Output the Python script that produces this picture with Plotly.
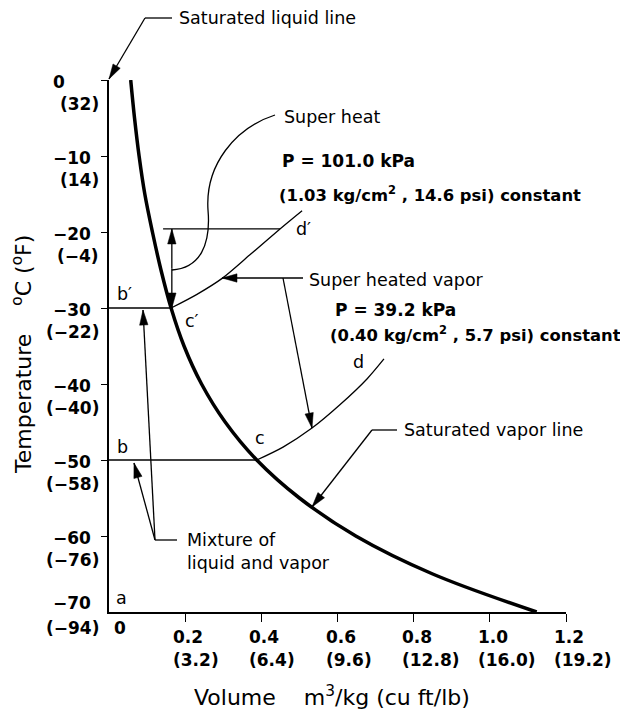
import math
import plotly.graph_objects as go

# ---------------- data ----------------
# saturated vapor line: temperature (degC) vs specific volume (m3/kg)
sat_T = [0, -5, -10, -15, -20, -25, -30, -35, -40, -45, -50, -55, -60, -65, -70]
sat_v = [0.057, 0.067, 0.079, 0.094, 0.114, 0.1365, 0.163, 0.197, 0.243, 0.305,
         0.388, 0.500, 0.648, 0.850, 1.123]

# superheat line at P = 101.0 kPa (c' -> d')
sh_hi_v = [0.163, 0.231, 0.297, 0.370, 0.449, 0.507]
sh_hi_T = [-30, -28.2, -26.1, -23.0, -19.6, -17.2]

# superheat line at P = 39.2 kPa (c -> d)
sh_lo_v = [0.388, 0.457, 0.533, 0.607, 0.678, 0.722]
sh_lo_T = [-50, -48.3, -45.8, -42.7, -39.3, -36.7]

# constant temperature lines
bc_v = [0.0, 0.388]
bc_T = [-50, -50]
bc2_v = [0.0, 0.163]
bc2_T = [-30, -30]
d2_v = [0.142, 0.449]
d2_T = [-19.6, -19.6]

# superheat interval (double arrow)
superheat_v = 0.165
superheat_T = [-19.6, -30]

# tick labels
y_ticks_C = [0, -10, -20, -30, -40, -50, -60, -70]
y_ticks_C_txt = ["0", "−10", "−20", "−30", "−40", "−50", "−60", "−70"]
y_ticks_F = ["(32)", "(14)", "(−4)", "(−22)", "(−40)", "(−58)", "(−76)", "(−94)"]
x_ticks = [0.2, 0.4, 0.6, 0.8, 1.0, 1.2]
x_ticks_txt = ["0.2", "0.4", "0.6", "0.8", "1.0", "1.2"]
x_ticks_ft = ["(3.2)", "(6.4)", "(9.6)", "(12.8)", "(16.0)", "(19.2)"]

# ---------------- layout geometry ----------------
W, H = 620, 715
ML, MR, MT, MB = 109, 54, 80, 103
PW, PH = W - ML - MR, H - MT - MB
XR, YR = [0, 1.2], [-70, 0]
FONT = "DejaVu Sans"
REG = 17.5
BOLD = 17


def paper(px, py):
    return (px - ML) / PW, (H - MB - py) / PH


def to_px(v, t):
    return (ML + (v - XR[0]) / (XR[1] - XR[0]) * PW,
            MT + (YR[1] - t) / (YR[1] - YR[0]) * PH)


shapes = []
annotations = []


def fmt(pts):
    return " L ".join("%.5f,%.5f" % paper(*p) for p in pts)


def polyline(pts, width=1.3):
    shapes.append(dict(type="path", xref="paper", yref="paper",
                       path="M " + fmt(pts),
                       line=dict(color="black", width=width)))


def arrowhead(tail, tip, L=15, hw=4.2):
    dx, dy = tip[0] - tail[0], tip[1] - tail[1]
    n = math.hypot(dx, dy)
    ux, uy = dx / n, dy / n
    bx, by = tip[0] - L * ux, tip[1] - L * uy
    nx, ny = -uy, ux
    pts = [tip, (bx + hw * nx, by + hw * ny), (bx - hw * nx, by - hw * ny)]
    shapes.append(dict(type="path", xref="paper", yref="paper",
                       path="M " + fmt(pts) + " Z", fillcolor="black",
                       line=dict(color="black", width=0.5)))


def arrow(tail, tip):
    polyline([tail, tip])
    arrowhead(tail, tip)


def txt(px, py, s, size=REG, anchor="left", bold=False, angle=0):
    x, y = paper(px, py)
    annotations.append(dict(x=x, y=y, xref="paper", yref="paper",
                            text="<b>%s</b>" % s if bold else s,
                            showarrow=False, xanchor=anchor, yanchor="middle",
                            textangle=angle,
                            font=dict(family=FONT, size=size, color="black")))


# ---------------- traces ----------------
fig = go.Figure()
fig.add_trace(go.Scatter(x=sat_v, y=sat_T, mode="lines",
                         line=dict(color="black", width=3.5, shape="spline", smoothing=1.0)))
fig.add_trace(go.Scatter(x=sh_hi_v, y=sh_hi_T, mode="lines",
                         line=dict(color="black", width=1.3, shape="spline", smoothing=0.8)))
fig.add_trace(go.Scatter(x=sh_lo_v, y=sh_lo_T, mode="lines",
                         line=dict(color="black", width=1.3, shape="spline", smoothing=0.8)))
for xs, ys in [(bc_v, bc_T), (bc2_v, bc2_T), (d2_v, d2_T)]:
    fig.add_trace(go.Scatter(x=xs, y=ys, mode="lines",
                             line=dict(color="black", width=1.3)))

# double arrow for super heat
top = to_px(superheat_v, superheat_T[0])
bot = to_px(superheat_v, superheat_T[1])
mid = (top[0], (top[1] + bot[1]) / 2)
arrow(mid, top)
arrow(mid, bot)

# ---------------- leaders ----------------
# saturated liquid line
polyline([(172, 18), (145, 18)])
arrow((145, 18), (109, 79))
txt(177, 18, "Saturated liquid line")

# super heat (curved leader)
p = [paper(*q) for q in [(275, 115), (235, 128), (205, 165), (208, 210),
                         (211, 245), (200, 268), (172, 270)]]
shapes.append(dict(type="path", xref="paper", yref="paper",
                   path="M %.5f,%.5f C %.5f,%.5f %.5f,%.5f %.5f,%.5f C %.5f,%.5f %.5f,%.5f %.5f,%.5f"
                        % tuple(c for pt in p for c in pt),
                   line=dict(color="black", width=1.3)))
txt(282, 117, "Super heat")

# super heated vapor
arrow((303, 278), (222, 278))
arrow((283, 278), (312, 428))
txt(307, 280, "Super heated vapor")

# saturated vapor line
polyline([(397, 430), (372, 430)])
arrow((372, 430), (312, 507))
txt(402, 430, "Saturated vapor line")

# mixture of liquid and vapor
polyline([(177, 540), (155, 540)])
arrow((155, 540), (134, 463))
arrow((155, 540), (143, 310))
txt(185, 540, "Mixture of")
txt(185, 563, "liquid and vapor")

# pressure labels
txt(280, 161, "P = 101.0 kPa", size=BOLD, bold=True)
txt(277, 194, "(1.03 kg/cm<sup>2</sup> , 14.6 psi) constant", size=16.4, bold=True)
txt(333, 310, "P = 39.2 kPa", size=BOLD, bold=True)
txt(328, 334, "(0.40 kg/cm<sup>2</sup> , 5.7 psi) constant", size=16.4, bold=True)

# point letters
for (px, py, s) in [(121, 598, "a"), (122, 447, "b"), (124, 294, "b′"),
                    (260, 438, "c"), (192, 321, "c′"), (358, 362, "d"),
                    (303, 229, "d′")]:
    txt(px, py, s, anchor="center")

# ---------------- tick labels ----------------
for val, c_txt, f_txt in zip(y_ticks_C, y_ticks_C_txt, y_ticks_F):
    up_c, up_f = (-2, -24) if val != -70 else (9, -16)
    annotations.append(dict(x=0, y=val, xref="paper", yref="y", text="<b>%s</b>" % c_txt,
                            xanchor="left", yanchor="middle", xshift=-58, yshift=up_c,
                            showarrow=False, font=dict(family=FONT, size=BOLD, color="black")))
    annotations.append(dict(x=0, y=val, xref="paper", yref="y", text="<b>%s</b>" % f_txt,
                            xanchor="right", yanchor="middle", xshift=-8, yshift=up_f,
                            showarrow=False, font=dict(family=FONT, size=BOLD, color="black")))
for val, c_txt, f_txt in zip(x_ticks, x_ticks_txt, x_ticks_ft):
    annotations.append(dict(x=val, y=0, xref="x", yref="paper", text="<b>%s</b>" % c_txt,
                            xanchor="left", yanchor="middle", xshift=-14, yshift=-25,
                            showarrow=False, font=dict(family=FONT, size=BOLD, color="black")))
    annotations.append(dict(x=val, y=0, xref="x", yref="paper", text="<b>%s</b>" % f_txt,
                            xanchor="left", yanchor="middle", xshift=-14, yshift=-48,
                            showarrow=False, font=dict(family=FONT, size=BOLD, color="black")))
annotations.append(dict(x=0, y=0, xref="x", yref="paper", text="<b>0</b>",
                        xanchor="center", yanchor="middle", xshift=11, yshift=-16,
                        showarrow=False, font=dict(family=FONT, size=BOLD, color="black")))

# axis titles
txt(192, 696, "Volume\u00a0\u00a0\u00a0 m<sup>3</sup>/kg (cu ft/lb)", size=22)
txt(22, 355, "Temperature\u00a0\u00a0\u00a0\u00a0<sup>o</sup>C (<sup>o</sup>F)", size=22,
    anchor="center", angle=-90)

fig.update_layout(
    width=W, height=H,
    margin=dict(l=ML, r=MR, t=MT, b=MB, pad=0),
    paper_bgcolor="white", plot_bgcolor="white",
    showlegend=False,
    font=dict(family=FONT, color="black"),
    shapes=shapes, annotations=annotations,
    xaxis=dict(range=XR, showgrid=False, zeroline=False, showline=True,
               linecolor="black", linewidth=1.5, ticks="outside", ticklen=8,
               tickwidth=1.3, tickcolor="black", tickvals=x_ticks,
               showticklabels=False, fixedrange=True),
    yaxis=dict(range=YR, showgrid=False, zeroline=False, showline=True,
               linecolor="black", linewidth=1.5, ticks="outside", ticklen=6,
               tickwidth=1.3, tickcolor="black", tickvals=y_ticks_C[:-1],
               showticklabels=False, fixedrange=True),
)

fig.write_html("out.html", config={"displayModeBar": False},
               post_script="document.body.style.margin='0';document.body.style.overflow='hidden';")
